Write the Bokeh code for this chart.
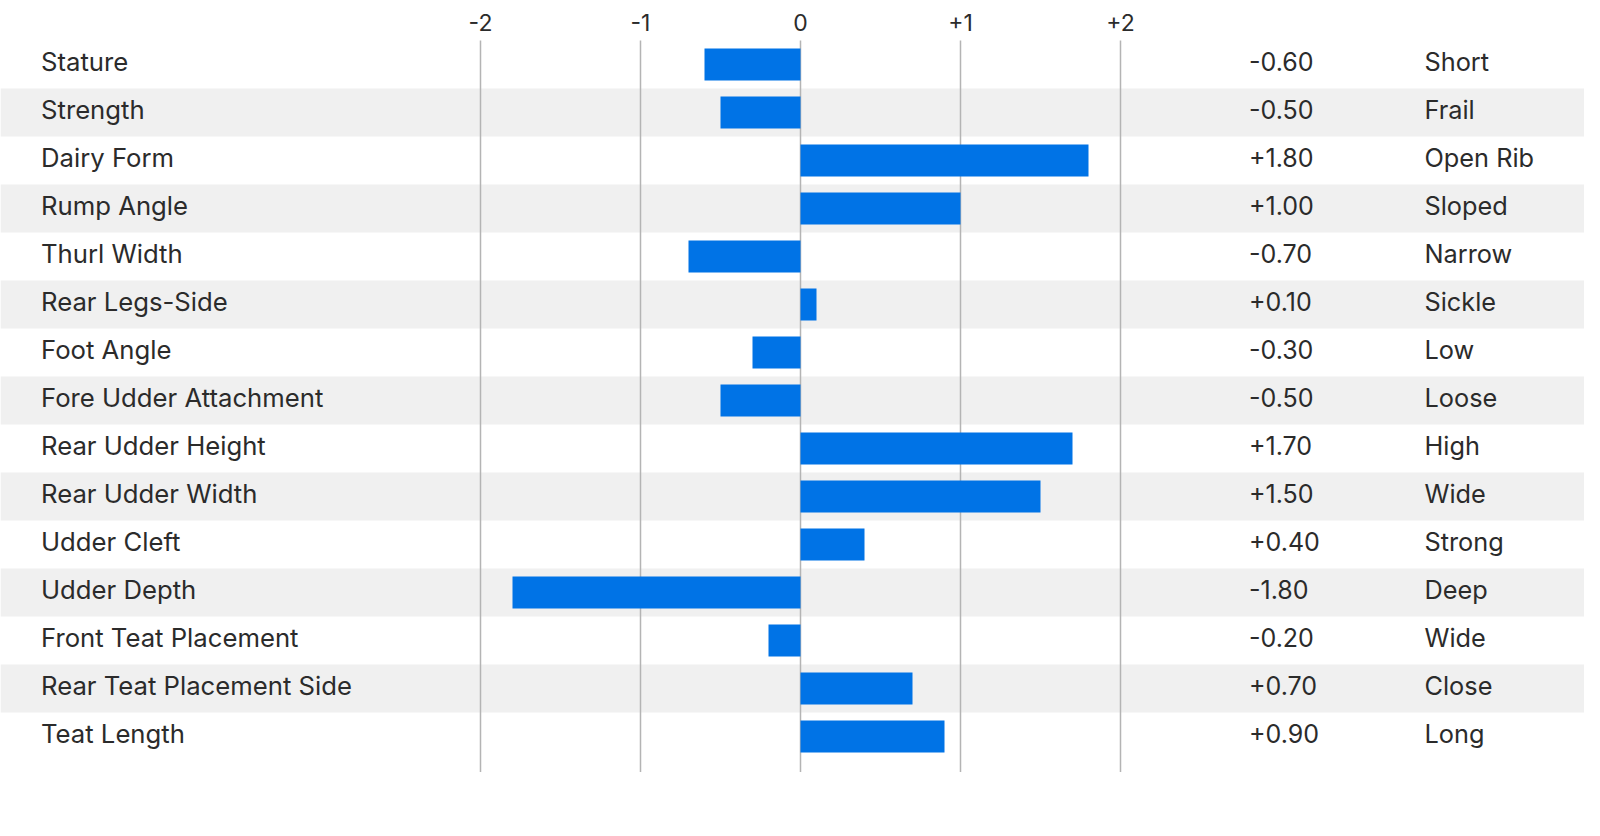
from bokeh.plotting import figure
from bokeh.models import Range1d, ColumnDataSource
from bokeh.core.properties import value
from bokeh.embed import file_html
from bokeh.resources import INLINE

# ---- data ----
traits = ["Stature", "Strength", "Dairy Form", "Rump Angle", "Thurl Width",
          "Rear Legs-Side", "Foot Angle", "Fore Udder Attachment",
          "Rear Udder Height", "Rear Udder Width", "Udder Cleft", "Udder Depth",
          "Front Teat Placement", "Rear Teat Placement Side", "Teat Length"]
scores = [-0.6, -0.5, 1.8, 1.0, -0.7, 0.1, -0.3, -0.5, 1.7, 1.5, 0.4, -1.8,
          -0.2, 0.7, 0.9]
descriptors = ["Short", "Frail", "Open Rib", "Sloped", "Narrow", "Sickle", "Low",
               "Loose", "High", "Wide", "Strong", "Deep", "Wide", "Close", "Long"]
tick_values = [-2, -1, 0, 1, 2]
tick_labels = ["-2", "-1", "0", "+1", "+2"]

# ---- layout constants (pixels) ----
W, H = 1584, 820
PX_PER_UNIT = 160.0
ZERO_X = 800.0          # figure x of score 0
ROW_H = 48.0
ROW0_Y = 64.0           # figure y of first row centre

x0 = -ZERO_X / PX_PER_UNIT
x1 = (W - ZERO_X) / PX_PER_UNIT
y_top = -ROW0_Y / ROW_H
y_bot = (H - ROW0_Y) / ROW_H

def xd(px):
    return (px - ZERO_X) / PX_PER_UNIT

def yd(py):
    return (py - ROW0_Y) / ROW_H

n = len(traits)
rows = list(range(n))

p = figure(width=W, height=H, output_backend="svg", toolbar_location=None,
           x_range=Range1d(x0, x1), y_range=Range1d(y_bot, y_top),
           min_border=0, min_border_left=0, min_border_right=0,
           min_border_top=0, min_border_bottom=0)
p.axis.visible = False
p.grid.visible = False
p.outline_line_color = None
p.background_fill_color = "white"
p.border_fill_color = "white"

# alternating bands
band_rows = [r for r in rows if r % 2 == 1]
p.hbar(y=band_rows, left=x0, right=x1, height=1.0, fill_color="#f0f0f0",
       line_color=None)

# gridlines
p.segment(x0=tick_values, x1=tick_values, y0=[-0.5] * len(tick_values),
          y1=[yd(771.5)] * len(tick_values), line_color="#b4b4b4", line_width=1.5)

# bars
src = ColumnDataSource(dict(
    y=rows,
    left=[min(0, s) for s in scores],
    right=[max(0, s) for s in scores],
))
p.hbar(y="y", left="left", right="right", height=32.0 / ROW_H, source=src,
       fill_color="#0073E6", line_color=None)

FONT = value("Inter")
TXT = "#2b2b2b"

# tick labels
p.text(x=tick_values, y=[yd(21.5)] * len(tick_values), text=tick_labels,
       text_font=FONT, text_font_size="23px", text_color=TXT,
       text_align="center", text_baseline="middle")

# trait names
p.text(x=[xd(40.5)] * n, y=rows, text=traits, text_font=FONT,
       text_font_size="25.7px", text_color=TXT, text_align="left",
       text_baseline="middle", y_offset=-3)

# values
val_txt = [("+" if s >= 0 else "-") + "%.2f" % abs(s) for s in scores]
p.text(x=[xd(1248.5)] * n, y=rows, text=val_txt, text_font=FONT,
       text_font_size="25px", text_color=TXT, text_align="left",
       text_baseline="middle", y_offset=-3)

# descriptors
p.text(x=[xd(1424)] * n, y=rows, text=descriptors, text_font=FONT,
       text_font_size="25.3px", text_color=TXT, text_align="left",
       text_baseline="middle", y_offset=-3)

open("out.html", "w").write(file_html(p, INLINE))
